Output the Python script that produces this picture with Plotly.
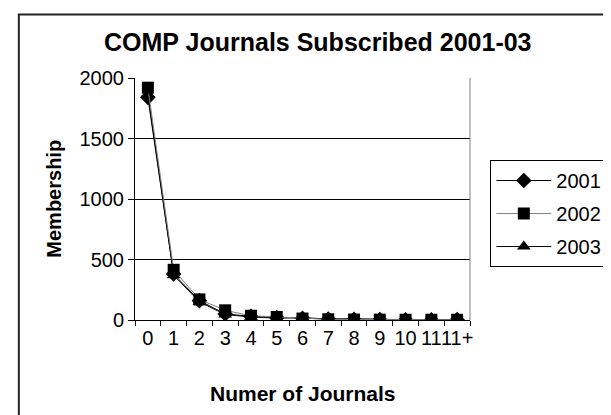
import plotly.graph_objects as go

# number of journals subscribed (x categories)
categories = ["0", "1", "2", "3", "4", "5", "6", "7", "8", "9", "10", "11", "11+"]

# membership counts per year
members_2001 = [1840, 380, 160, 50, 30, 20, 15, 8, 5, 3, 2, 2, 3]
members_2002 = [1920, 415, 170, 80, 35, 25, 12, 6, 4, 3, 2, 2, 2]
members_2003 = [1870, 370, 150, 45, 25, 15, 20, 8, 10, 3, 2, 1, 2]

y_ticks = [0, 500, 1000, 1500, 2000]

FONT = '"Liberation Sans", Arial, sans-serif'

fig = go.Figure()

######### SERIES #########

fig.add_trace(go.Scatter(
    x=categories, y=members_2001, name="2001", mode="lines+markers",
    line=dict(color="black", width=1),
    marker=dict(symbol="diamond", size=12, color="black"),
    legendrank=1, legendgroup="a",
))
fig.add_trace(go.Scatter(
    x=categories, y=members_2003, name="2003", mode="lines+markers",
    line=dict(color="black", width=1),
    marker=dict(symbol="triangle-up", size=12, color="black"),
    legendrank=3, legendgroup="c",
))
fig.add_trace(go.Scatter(
    x=categories, y=members_2002, name="2002", mode="lines+markers",
    line=dict(color="#808080", width=1),
    marker=dict(symbol="square", size=12, color="black"),
    legendrank=2, legendgroup="b",
))

######### LAYOUT #########

fig.update_layout(
    width=611, height=415,
    margin=dict(l=127, r=138, t=70, b=103),
    paper_bgcolor="white", plot_bgcolor="white",
    font=dict(family=FONT, size=20, color="black"),
    title=dict(
        text="<b>COMP Journals Subscribed 2001-03</b>",
        x=0.507, xanchor="center", y=0.918, yanchor="middle",
        font=dict(size=25, family=FONT, color="black"),
    ),
    showlegend=True,
    legend=dict(
        x=1.0607, xanchor="left", y=0.661, yanchor="top",
        bordercolor="black", borderwidth=1, bgcolor="white",
        font=dict(size=20, family=FONT),
        itemwidth=55, tracegroupgap=4,
    ),
)

fig.update_xaxes(
    type="category", range=[-0.5, 12.5], tickangle=0,
    showline=True, linecolor="black", linewidth=1,
    ticks="outside", tickson="boundaries", ticklen=5, tickcolor="black",
    showgrid=False, tickfont=dict(size=20, family=FONT),
)
fig.update_yaxes(
    range=[0, 2000], tickvals=y_ticks,
    showline=True, linecolor="black", linewidth=1,
    ticks="outside", ticklen=6, tickcolor="black",
    showgrid=True, gridcolor="black", gridwidth=1, zeroline=False,
    tickfont=dict(size=20, family=FONT),
)

# axis titles
fig.add_annotation(text="<b>Numer of Journals</b>", xref="paper", yref="paper",
                   x=0.5, y=-0.3017, xanchor="center", yanchor="middle",
                   showarrow=False, font=dict(size=21, family=FONT))
fig.add_annotation(text="<b>Membership</b>", xref="paper", yref="paper",
                   x=-0.2428, y=0.5, xanchor="center", yanchor="middle",
                   textangle=-90, showarrow=False, font=dict(size=20, family=FONT))

# right edge of plot area and outer chart frame
fig.add_shape(type="line", xref="paper", yref="paper", x0=1, x1=1, y0=0, y1=1,
              line=dict(color="#808080", width=1))
fig.add_shape(type="rect", xref="paper", yref="paper",
              x0=-0.3468, x1=1.45, y0=-0.5, y1=1.2624,
              line=dict(color="#222222", width=2), layer="below")

fig.write_html("out.html")
